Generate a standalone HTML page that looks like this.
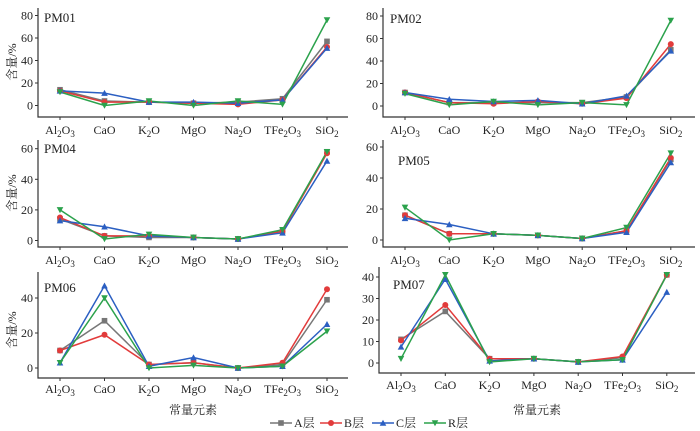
<!DOCTYPE html><html><head><meta charset="utf-8"><style>body{margin:0;background:#fff}svg{display:block}text{font-family:"Liberation Serif","Noto Serif CJK SC",serif;fill:#222}</style></head><body>
<svg id="s" width="700" height="431" xmlns="http://www.w3.org/2000/svg"></svg>
<script>
const S=document.getElementById('s');let h='';
const cols=['#777','#e23b3b','#2b5fc2','#2ba24c'];
const cats=[['Al','2','O','3'],['CaO'],['K','2','O'],['MgO'],['Na','2','O'],['TFe','2','O','3'],['SiO','2']];
function lab(c,x,y){let t='<text x="'+x+'" y="'+y+'" font-size="12" text-anchor="middle">';c.forEach((p,i)=>{if(i%2==1)t+='<tspan dy="3" font-size="9">'+p+'</tspan>';else t+='<tspan dy="'+(i?-3:0)+'">'+p+'</tspan>';});return t+'</text>';}
function mark(k,x,y,c){const r=2.8;if(k==0)return `<rect x="${x-r}" y="${y-r}" width="${2*r}" height="${2*r}" fill="${c}"/>`;if(k==1)return `<circle cx="${x}" cy="${y}" r="${r+.2}" fill="${c}"/>`;if(k==2)return `<polygon points="${x},${y-r-.5} ${x-r-.5},${y+r} ${x+r+.5},${y+r}" fill="${c}"/>`;return `<polygon points="${x},${y+r+.5} ${x-r-.5},${y-r} ${x+r+.5},${y-r}" fill="${c}"/>`;}
function panel(o){const{ax,x0,dx,right,top,bot,y0,ppu,ticks,name,nx,ny,data,ly}=o;
h+=`<path d="M${ax} ${top}V${bot}H${right}" stroke="#333" stroke-width="1.2" fill="none"/>`;
ticks.forEach(t=>{const y=y0-t*ppu;h+=`<line x1="${ax-3}" x2="${ax}" y1="${y}" y2="${y}" stroke="#333"/><text x="${ax-5}" y="${y+4}" font-size="12" text-anchor="end">${t}</text>`;});
cats.forEach((c,i)=>{const x=x0+i*dx;h+=`<line x1="${x}" x2="${x}" y1="${bot}" y2="${bot+3}" stroke="#333"/>`+lab(c,x,ly);});
h+=`<text x="${nx}" y="${ny}" font-size="13">${name}</text>`;
data.forEach((d,k)=>{h+='<polyline fill="none" stroke="'+cols[k]+'" stroke-width="1.5" points="'+d.map((v,i)=>(x0+i*dx)+','+(y0-v*ppu)).join(' ')+'"/>';});
data.forEach((d,k)=>{d.forEach((v,i)=>{h+=mark(k,x0+i*dx,y0-v*ppu,cols[k]);});});}
const L={ax:38,x0:60,dx:44.5,right:348},R={ax:383,x0:405,dx:44.3,right:695};
panel({...L,top:8,bot:117,y0:105.5,ppu:1.125,ticks:[0,20,40,60,80],name:'PM01',nx:44,ny:22,ly:134,data:[[14,4,3,2,3,6,57],[13,3,3,2,1,5,52],[13,11,3,3,2,5,51],[12,0,4,0,4,1,76]]});
panel({...R,top:8,bot:117,y0:106,ppu:1.125,ticks:[0,20,40,60,80],name:'PM02',nx:390,ny:23,ly:134,data:[[12,3,3,3,3,8,50],[12,3,2,4,2,7,55],[12,6,4,5,2,9,49],[11,1,4,1,3,1,76]]});
panel({...L,top:140,bot:247,y0:240.5,ppu:1.53,ticks:[0,20,40,60],name:'PM04',nx:44,ny:153,ly:264,data:[[14,3,2,2,1,6,58],[15,3,3,2,1,6,57],[13,9,3,2,1,5,52],[20,1,4,2,1,7,58]]});
panel({...R,top:140,bot:247,y0:240,ppu:1.55,ticks:[0,20,40,60],name:'PM05',nx:398,ny:165,ly:264,data:[[16,4,4,3,1,6,52],[16,4,4,3,1,6,53],[14,10,4,3,1,5,50],[21,0,4,3,1,8,56]]});
panel({...L,top:272,bot:378,y0:368,ppu:1.75,ticks:[0,20,40],name:'PM06',nx:44,ny:292,ly:393,data:[[10,27,2,3,0,2,39],[10,19,2,3,0,3,45],[3,47,1,6,0,1,25],[3,40,0,1.5,0,1,21]]});
panel({...R,ax:379,x0:401,top:267,bot:373,y0:363,ppu:2.15,ticks:[0,10,20,30,40],name:'PM07',nx:393,ny:289,ly:389,data:[[11,24,2,2,0.5,2.5,41],[10.5,27,2,2,0.5,3,41],[7.5,39,1,2,0.5,1.5,33],[2,41,0.5,2,0.5,1.5,41]]});
[[62],[193],[330]].forEach(([y])=>{h+=`<text transform="translate(16,${y}) rotate(-90)" font-size="12" text-anchor="middle">含量/%</text>`;});
h+=`<text x="193" y="414" font-size="12" text-anchor="middle">常量元素</text><text x="537" y="414" font-size="12" text-anchor="middle">常量元素</text>`;
const lx=[270,320,372,424],ln=['A层','B层','C层','R层'];
lx.forEach((x,k)=>{h+=`<line x1="${x}" x2="${x+22}" y1="423" y2="423" stroke="${cols[k]}" stroke-width="1.5"/>`+mark(k,x+11,423,cols[k])+`<text x="${x+24}" y="427" font-size="12">${ln[k]}</text>`;});
S.innerHTML=h;
</script></body></html>
